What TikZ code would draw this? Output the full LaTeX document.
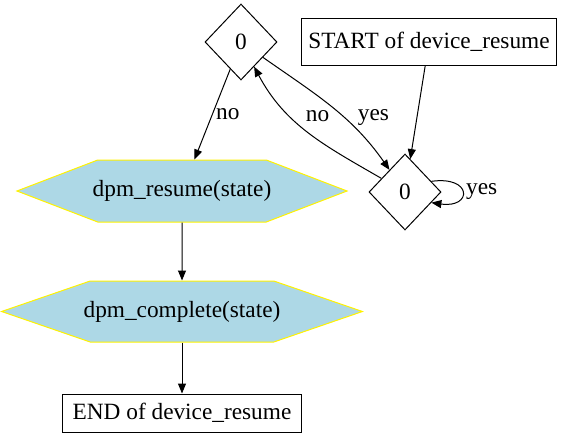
\documentclass[tikz,border=0pt]{standalone}
\usepackage{fontspec}
\setmainfont{Liberation Serif}
\usetikzlibrary{positioning, shapes.geometric, shapes.symbols, arrows.meta}
\definecolor{callfill}{RGB}{173,216,230}

\begin{document}
\begin{tikzpicture}[x=1pt, y=-1pt, line width=1pt,
        every node/.style={font=\rmfamily\fontsize{23.3}{25}\selectfont},
        >={Triangle[length=10pt, width=8pt]},
        decision/.style={diamond, draw, inner sep=0pt, minimum width=72pt, minimum height=76pt},
        endpoint/.style={rectangle, draw, inner xsep=7pt, minimum height=47pt},
        call/.style={signal, signal to=east and west, draw=yellow, fill=callfill, minimum height=62pt}]
        \useasboundingbox (0,0) rectangle (571,445);

        % Nodes
        \node[decision] (test1) at (241,42) {0};
        \node[endpoint] (start) at (429,42) {START of device\_resume};
        \node[decision] (test2) at (405,192) {0};
        \node[call, signal pointer angle=42, inner xsep=-5pt, minimum width=325pt] (resume) at (182,191) {dpm\_resume(state)};
        \node[call, signal pointer angle=38, inner xsep=-6.5pt, minimum width=355pt, minimum height=61pt] (complete) [below=58pt of resume] {dpm\_complete(state)};
        \node[endpoint, inner xsep=10pt, minimum height=38pt] (finish) [below=51pt of complete] {END of device\_resume};

        % Edges
        \draw[->] (start) -- (test2);
        \draw[->] (test1) -- node[right, pos=.5] {no} (resume);
        \draw[->] (test1) to[out=-35, in=125] node[right=10pt, pos=.6] {yes} (test2);
        \draw[->] (test2) to[out=150, in=-62] node[right=12pt, pos=.65] {no} (test1);
        \draw[->] (test2.22) to[out=8, in=-8, looseness=5] node[right] {yes} (test2.-22);
        \draw[->] (resume) -- (complete);
        \draw[->] (complete) -- (finish);
\end{tikzpicture}
\end{document}
